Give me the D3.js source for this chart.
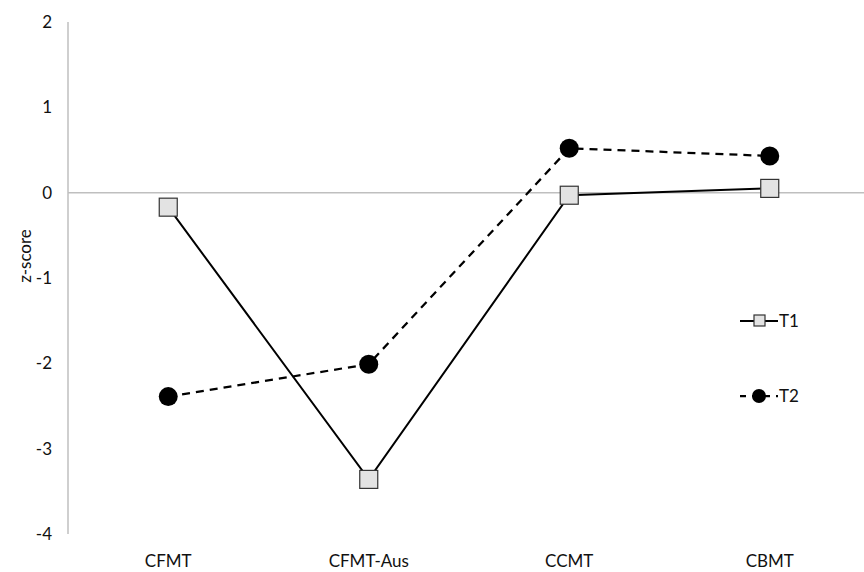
<!DOCTYPE html>
<html>
<head>
<meta charset="utf-8">
<script src="https://cdn.jsdelivr.net/npm/d3@7"></script>
<style>
body { margin: 0; background: #fff; }
text { font-family: Lato, "Open Sans", sans-serif; fill: #111; }
</style>
</head>
<body>
<svg width="864" height="572"></svg>
<script>
// Chart data
var categories = ['CFMT', 'CFMT-Aus', 'CCMT', 'CBMT'];
var t1Values = [-0.17, -3.36, -0.03, 0.05];
var t2Values = [-2.39, -2.01, 0.52, 0.43];
var yTicks = [2, 1, 0, -1, -2, -3, -4];

var svg = d3.select('svg');
var svgWidth = +svg.attr('width');
var svgHeight = +svg.attr('height');

var padding = {t: 22, r: -6, b: 38, l: 68};
var fontSize = '17px';

var x = d3.scalePoint()
    .domain(categories)
    .range([padding.l, svgWidth - padding.r])
    .padding(0.5);

var y = d3.scaleLinear()
    .domain([-4, 2])
    .range([svgHeight - padding.b, padding.t]);

// y axis line
svg.append('line')
    .attr('x1', padding.l).attr('x2', padding.l)
    .attr('y1', y(2)).attr('y2', y(-4))
    .style('stroke', '#bfbfbf').style('stroke-width', 1.5);

// zero line
svg.append('line')
    .attr('x1', padding.l).attr('x2', svgWidth)
    .attr('y1', y(0)).attr('y2', y(0))
    .style('stroke', '#bfbfbf').style('stroke-width', 1.5);

// y tick labels
svg.selectAll('.ytick')
    .data(yTicks)
    .enter().append('text')
    .attr('class', 'ytick')
    .attr('x', 52)
    .attr('y', d => y(d))
    .attr('dy', '0.35em')
    .attr('text-anchor', 'end')
    .style('font-size', fontSize)
    .text(d => d);

// y axis title
svg.append('text')
    .attr('transform', 'translate(25,' + 256 + ') rotate(-90)')
    .attr('text-anchor', 'middle')
    .attr('dy', '0.35em')
    .style('font-size', fontSize)
    .text('z-score');

// category labels
svg.selectAll('.xlabel')
    .data(categories)
    .enter().append('text')
    .attr('class', 'xlabel')
    .attr('x', d => x(d))
    .attr('y', 561)
    .attr('dy', '0.35em')
    .attr('text-anchor', 'middle')
    .style('font-size', fontSize)
    .text(d => d);

var line = d3.line()
    .x((d, i) => x(categories[i]))
    .y(d => y(d));

// T2 dashed line
svg.append('path')
    .datum(t2Values)
    .attr('d', line)
    .style('fill', 'none')
    .style('stroke', '#000')
    .style('stroke-width', 2.25)
    .style('stroke-dasharray', '8,6');

// T1 solid line
svg.append('path')
    .datum(t1Values)
    .attr('d', line)
    .style('fill', 'none')
    .style('stroke', '#000')
    .style('stroke-width', 2);

svg.selectAll('.t2dot')
    .data(t2Values)
    .enter().append('circle')
    .attr('class', 't2dot')
    .attr('cx', (d, i) => x(categories[i]))
    .attr('cy', d => y(d))
    .attr('r', 9.5)
    .style('fill', '#000');

var sq = 18;
svg.selectAll('.t1sq')
    .data(t1Values)
    .enter().append('rect')
    .attr('class', 't1sq')
    .attr('x', (d, i) => x(categories[i]) - sq / 2)
    .attr('y', d => y(d) - sq / 2)
    .attr('width', sq)
    .attr('height', sq)
    .style('fill', '#e3e3e3')
    .style('stroke', '#333')
    .style('stroke-width', 1.2);

// legend
var legT1 = svg.append('g').attr('transform', 'translate(740,321)');
legT1.append('line').attr('x1', 0).attr('x2', 38)
    .style('stroke', '#000').style('stroke-width', 2);
legT1.append('rect').attr('x', 14).attr('y', -6).attr('width', 11).attr('height', 11)
    .style('fill', '#e3e3e3').style('stroke', '#333').style('stroke-width', 1.2);
legT1.append('text').attr('x', 39).attr('dy', '0.35em')
    .style('font-size', fontSize).text('T1');

var legT2 = svg.append('g').attr('transform', 'translate(740,396)');
legT2.append('line').attr('x1', 0).attr('x2', 38)
    .style('stroke', '#000').style('stroke-width', 2.25)
    .style('stroke-dasharray', '6,6');
legT2.append('circle').attr('cx', 19).attr('r', 7).style('fill', '#000');
legT2.append('text').attr('x', 39).attr('dy', '0.35em')
    .style('font-size', fontSize).text('T2');
</script>
</body>
</html>
